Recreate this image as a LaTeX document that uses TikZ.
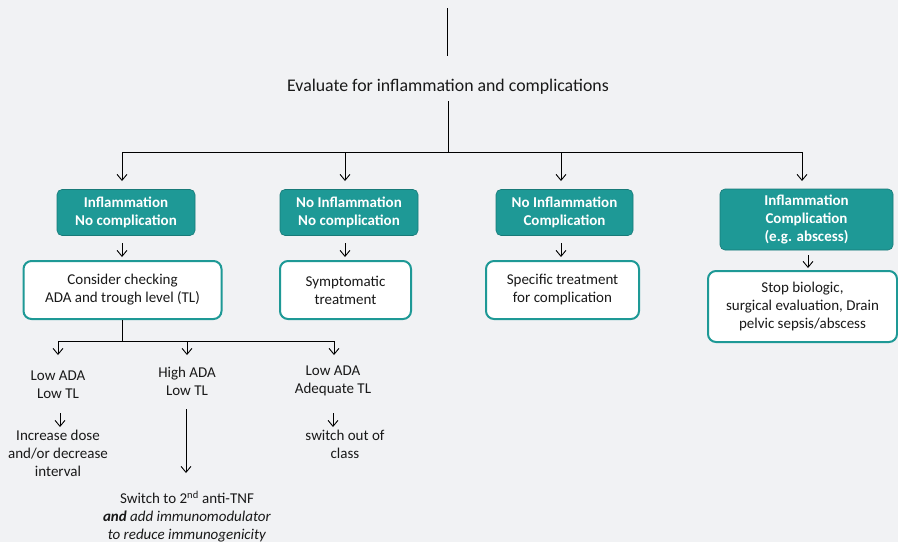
\documentclass[tikz,border=0pt]{standalone}
\usepackage{fontspec}
\setmainfont{Carlito}
\usetikzlibrary{arrows.meta}
\definecolor{bgc}{HTML}{F1F2F4}
\definecolor{teal1}{HTML}{1E9996}
\begin{document}
\begin{tikzpicture}[x=1pt,y=-1pt,
  font=\fontsize{15}{18}\selectfont,
  >={Straight Barb[length=6pt,width=10pt]},
  conn/.style={draw=black,line width=0.9pt},
  arr/.style={conn,->},
  txt/.style={align=center,inner sep=0pt,text=black!90},
  tealbox/.style={draw=teal1!80!black,line width=0.6pt,fill=teal1,rounded corners=5pt,text=white,align=center,inner sep=0pt,font=\fontsize{15}{18}\selectfont\bfseries},
  whitebox/.style={draw=teal1,line width=2pt,fill=white,rounded corners=8pt,align=center,inner sep=0pt,text=black!90}]
\fill[bgc] (0,0) rectangle (898,542);
\useasboundingbox (0,0) rectangle (898,542);

% top
\coordinate (top) at (447,8);
\coordinate (topend) at (447,56);
\draw[conn] (top) -- (topend);
\node[txt,font=\fontsize{17.8}{20}\selectfont] (eval) at (448,87) {Evaluate for inflammation and complications};
\coordinate (hl) at (448,152);
\draw[conn] (448,101) -- (hl);
\coordinate (hlL) at (122,152);
\coordinate (hlR) at (802,152);
\draw[conn] (hlL) -- (hlR);

% teal boxes
\node[tealbox,minimum width=138pt,minimum height=46pt] (t1) at (126,212.5) {Inflammation\\No complication};
\node[tealbox,minimum width=138pt,minimum height=46pt] (t2) at (349,212.5) {No Inflammation\\No complication};
\node[tealbox,minimum width=137pt,minimum height=46pt] (t3) at (564.5,212.5) {No Inflammation\\Complication};
\node[tealbox,minimum width=173pt,minimum height=61pt] (t4) at (806.5,219.5) {Inflammation\\Complication\\(e.g. abscess)};

\draw[arr] (hlL) -- (122,181);
\draw[arr] (345,152) -- (345,181);
\draw[arr] (561,152) -- (561,181);
\draw[arr] (hlR) -- (802,181);

% white boxes
\node[whitebox,minimum width=198pt,minimum height=58pt] (w1) at (122.5,290) {Consider checking\\ADA and trough level (TL)};
\node[whitebox,minimum width=131pt,minimum height=58pt] (w2) at (345.5,290) {Symptomatic\\treatment};
\node[whitebox,minimum width=153pt,minimum height=58pt] (w3) at (562.5,290) {Specific treatment\\for complication};
\node[whitebox,minimum width=189pt,minimum height=71pt] (w4) at (802.5,306.5) {Stop biologic,\\surgical evaluation, Drain\\pelvic sepsis/abscess};

\draw[arr] (122,243) -- (122,257);
\draw[arr] (345,243) -- (345,257);
\draw[arr] (561,243) -- (561,257);
\draw[arr] (808,255) -- (808,268);

% lower branch
\coordinate (bh) at (122,341);
\draw[conn] (w1.south -| bh) -- (bh);
\coordinate (bL) at (58,341);
\coordinate (bR) at (334,341);
\draw[conn] (bL) -- (bR);
\draw[arr] (bL) -- (58,355);
\draw[arr] (187,341) -- (187,355);
\draw[arr] (bR) -- (334,355);

\node[txt] (a1) at (58,385) {Low ADA\\Low TL};
\node[txt] (a2) at (187,381) {High ADA\\Low TL};
\node[txt] (a3) at (333,381) {Low ADA\\Adequate TL};

\node[txt] (r1) at (58,453) {Increase dose\\and/or decrease\\interval};
\node[txt] (r2) at (187,517) {Switch to 2\textsuperscript{nd} anti-TNF\\\textit{\textbf{and} add immunomodulator}\\\textit{to reduce immunogenicity}};
\node[txt] (r3) at (345,444) {switch out of\\class};

\draw[arr] (60,413) -- (60,427);
\draw[arr] (186,409) -- (186,473);
\draw[arr] (333,413) -- (333,427);
\end{tikzpicture}
\end{document}
